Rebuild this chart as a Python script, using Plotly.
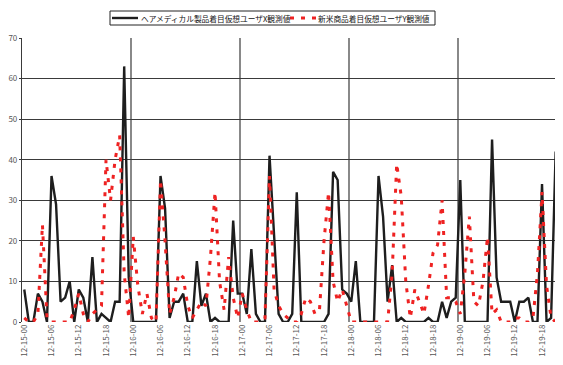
import plotly.graph_objects as go

# hourly observations, 12-15-00 .. 12-19-23 (120 hours)
hours = list(range(120))
day_labels = ["12-15", "12-16", "12-17", "12-18", "12-19"]
tick_hours = list(range(0, 120, 6))
tick_labels = [f"{day_labels[h // 24]}-{h % 24:02d}" for h in tick_hours]

series_x_name = "ヘアメディカル製品着目仮想ユーザX観測値"
series_y_name = "新米商品着目仮想ユーザY観測値"

series_x = [
    8, 0, 0, 7, 5, 0, 36, 29, 5, 6, 10, 0, 8, 6, 0, 16, 0, 2, 1, 0, 5, 5, 63, 11,
    0, 0, 0, 0, 0, 0, 36, 28, 1, 5, 5, 7, 0, 0, 15, 4, 7, 0, 1, 0, 0, 0, 25, 7,
    7, 2, 18, 2, 0, 0, 41, 20, 2, 0, 0, 2, 32, 0, 0, 0, 0, 0, 0, 2, 37, 35, 8, 7,
    5, 15, 0, 0, 0, 0, 36, 26, 5, 14, 0, 1, 0, 0, 0, 0, 0, 1, 0, 0, 5, 1, 5, 6,
    35, 0, 0, 0, 0, 0, 0, 45, 11, 5, 5, 5, 0, 5, 5, 6, 0, 0, 34, 0, 1, 42, 12, 9,
]
series_y = [
    1, 0, 0, 2, 24, 1, 0, 0, 0, 0, 0, 3, 7, 2, 0, 2, 3, 4, 40, 30, 40, 46, 12, 1,
    21, 9, 2, 7, 1, 0, 35, 20, 2, 6, 12, 11, 4, 1, 3, 5, 4, 16, 32, 10, 3, 16, 6, 1,
    7, 3, 0, 0, 0, 1, 36, 8, 4, 2, 1, 0, 0, 2, 6, 5, 2, 3, 20, 32, 10, 5, 8, 4,
    0, 0, 0, 0, 0, 0, 0, 0, 0, 12, 39, 31, 10, 1, 8, 5, 2, 9, 17, 19, 30, 6, 6, 5,
    2, 12, 26, 5, 4, 10, 21, 2, 3, 0, 0, 0, 1, 1, 0, 0, 1, 12, 32, 9, 1, 0, 5, 5,
]

y_ticks = list(range(0, 71, 10))
day_starts = [24, 48, 72, 96]

colors = {"x": "#1e1e1e", "y": "#ee2222"}
red_dash = "4px,7px"

fig = go.Figure()
fig.add_trace(go.Scatter(
    x=hours, y=series_x, name=series_x_name, mode="lines",
    line=dict(color=colors["x"], width=2.4),
))
fig.add_trace(go.Scatter(
    x=hours, y=series_y, name=series_y_name, mode="lines",
    line=dict(color=colors["y"], width=3, dash=red_dash),
))

for d in day_starts:
    fig.add_shape(type="line", xref="x", yref="paper", x0=d - 0.5, x1=d - 0.5,
                  y0=0, y1=1, line=dict(color="#3a3a3a", width=1.2), layer="below")

# ---- boxed legend above the plot (paper coordinates) ----
W, H = 563, 365
ML, MR, MT, MB = 14, 4, 30, 51
pw, ph = W - ML - MR, H - MT - MB


def px(fx):
    return (fx - ML) / pw


def py(fy):
    return (H - MB - fy) / ph


legend_font = dict(family="Noto Sans CJK JP, Noto Sans, sans-serif", size=7.7, color="#111")
fig.add_shape(type="rect", xref="paper", yref="paper",
              x0=px(102), x1=px(427), y0=py(17), y1=py(3),
              line=dict(color="#222", width=1), fillcolor="white")
fig.add_shape(type="line", xref="paper", yref="paper",
              x0=px(104), x1=px(130), y0=py(10), y1=py(10),
              line=dict(color=colors["x"], width=2.4))
fig.add_annotation(xref="paper", yref="paper", x=px(131), y=py(10.3),
                   xanchor="left", yanchor="middle", showarrow=False,
                   text=series_x_name, font=legend_font)
fig.add_shape(type="line", xref="paper", yref="paper",
              x0=px(282), x1=px(308), y0=py(10), y1=py(10),
              line=dict(color=colors["y"], width=3, dash=red_dash))
fig.add_annotation(xref="paper", yref="paper", x=px(308), y=py(10.3),
                   xanchor="left", yanchor="middle", showarrow=False,
                   text=series_y_name, font=legend_font)

font_family = "Noto Sans CJK JP, Noto Sans, sans-serif"
fig.update_layout(
    width=W, height=H,
    margin=dict(l=ML, r=MR, t=MT, b=MB, autoexpand=False),
    paper_bgcolor="white", plot_bgcolor="white",
    font=dict(family=font_family, size=8, color="#555"),
    showlegend=False,
    xaxis=dict(
        range=[-0.5, 119.5], tickmode="array", tickvals=tick_hours,
        ticktext=tick_labels, tickangle=-90, showgrid=False, zeroline=False,
        showline=False, ticks="", tickfont=dict(size=8, color="#555"),
        automargin=False,
    ),
    yaxis=dict(
        range=[0, 70], tickmode="array", tickvals=y_ticks, showgrid=True,
        gridcolor="#3a3a3a", gridwidth=1.2, zeroline=False, showline=True,
        linecolor="#3a3a3a", linewidth=1.2, ticks="outside", ticklen=2,
        tickcolor="#3a3a3a", tickfont=dict(size=8, color="#555"),
        automargin=False,
    ),
)

fig.write_html("out.html")
